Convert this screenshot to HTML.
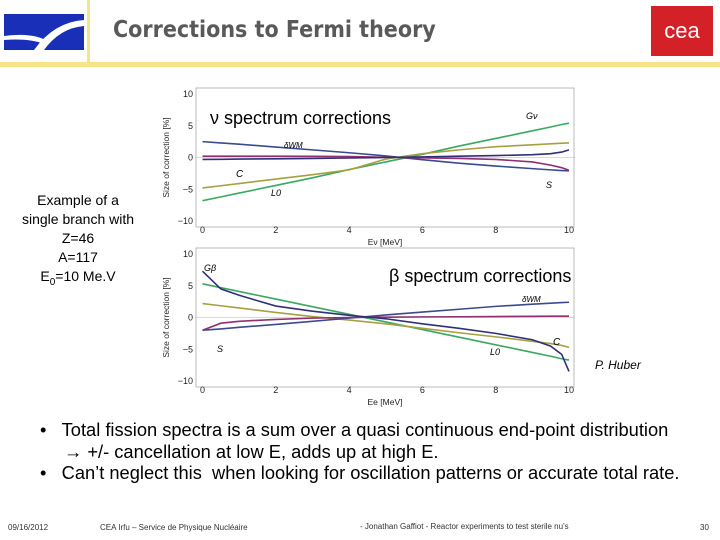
<!DOCTYPE html>
<html><head><meta charset="utf-8"><style>
body{margin:0;width:720px;height:540px;overflow:hidden;background:#fff;font-family:"Liberation Sans",sans-serif;position:relative}
.abs{position:absolute}
</style></head><body>
<div class="abs" style="left:0;top:62px;width:720px;height:5px;background:#f5e48a"></div>
<div class="abs" style="left:87px;top:0;width:3px;height:64px;background:#f5e48a"></div>
<svg class="abs" style="left:4px;top:14px" width="80" height="36"><rect width="80" height="36" fill="#1a2fb8"/><path d="M30 36 Q50 8 80 6 L80 12 Q56 14 40 36Z" fill="#fff"/><path d="M0 22 Q30 18 45 28 L40 30 Q25 24 0 26Z" fill="#fff"/></svg>
<div class="abs" style="left:113px;top:17px;font-size:23px;font-weight:bold;color:#595959;font-family:'DejaVu Sans Condensed','Liberation Sans Narrow',sans-serif">Corrections to Fermi theory</div>
<div class="abs" style="left:651px;top:6px;width:62px;height:50px;background:#d42027;color:#fff;font-size:22px;text-align:center;line-height:50px">cea</div>
<div class="abs" style="left:18px;top:191px;width:120px;text-align:center;font-size:14px;line-height:19px;color:#000">Example of a single branch with<br>Z=46<br>A=117<br>E<sub style="font-size:10px">0</sub>=10 Me.V</div>
<svg class="abs" style="left:0;top:0" width="720" height="420" id="svg"></svg>
<div class="abs" style="left:40px;top:419px;font-size:18.3px;line-height:21.5px;color:#000">
<div>•&nbsp;&nbsp;&nbsp;Total fission spectra is a sum over a quasi continuous end-point distribution</div>
<div style="padding-left:24px">→ +/- cancellation at low E, adds up at high E.</div>
<div>•&nbsp;&nbsp;&nbsp;Can’t neglect this&nbsp; when looking for oscillation patterns or accurate total rate.</div></div>
<div class="abs" style="left:8px;top:523px;font-size:8px;color:#333">09/16/2012</div>
<div class="abs" style="left:100px;top:523px;font-size:8px;color:#333">CEA Irfu – Service de Physique Nucléaire</div>
<div class="abs" style="left:360px;top:522px;font-size:8px;color:#333">- Jonathan Gaffiot - Reactor experiments to test sterile nu's</div>
<div class="abs" style="left:700px;top:523px;font-size:8px;color:#333">30</div>
<script>
const xs=[0,0.5,1,2,3,4,5,6,7,8,9,9.5,9.8,10];
const nuL0=[-6.8,-6.2,-5.6,-4.4,-3.2,-1.9,-0.7,0.5,1.8,3.0,4.2,4.8,5.2,5.4];
const nuC=[-4.8,-4.45,-4.1,-3.4,-2.7,-1.95,-0.25,0.6,1.2,1.7,2.0,2.15,2.25,2.3];
const nuWM=[2.5,2.3,2.1,1.65,1.2,0.75,0.25,-0.35,-0.9,-1.35,-1.75,-1.95,-2.05,-2.1];
const nuS=[0.2,0.2,0.2,0.2,0.18,0.15,0.05,-0.05,-0.15,-0.3,-0.7,-1.2,-1.6,-2.0];
const nuG=[-0.3,-0.28,-0.25,-0.2,-0.15,-0.08,0,0.1,0.2,0.3,0.45,0.6,0.85,1.2];
const bG=[7.3,4.5,3.5,1.8,1.0,0.35,-0.2,-1.0,-1.7,-2.5,-3.5,-4.5,-5.8,-8.5];
const bL0=[5.3,4.7,4.1,2.9,1.7,0.5,-0.7,-1.9,-3.1,-4.3,-5.5,-6.1,-6.5,-6.7];
const bC=[2.2,1.85,1.5,0.8,0.15,-0.4,-1.0,-1.7,-2.4,-3.05,-3.75,-4.1,-4.4,-4.7];
const bWM=[-2.0,-1.8,-1.55,-1.1,-0.6,-0.1,0.4,0.85,1.3,1.75,2.1,2.25,2.35,2.4];
const bS=[-2.0,-0.9,-0.6,-0.3,-0.1,0,0.05,0.1,0.12,0.15,0.18,0.2,0.2,0.2];
const yTicks=[10,5,0,-5,-10];
const xTicks=[0,2,4,6,8,10];
const svg=document.getElementById('svg');
const NS='http://www.w3.org/2000/svg';
function el(t,a,txt){const e=document.createElementNS(NS,t);for(const k in a)e.setAttribute(k,a[k]);if(txt!=null)e.textContent=txt;svg.appendChild(e);return e;}
function chart(top,bottom,series,name,xlab){
 const sx=v=>202.5+v*36.65, sy=v=>(top+bottom)/2-v*(bottom-top)/20;
 const ax=el('line',{x1:195,y1:sy(0),x2:575,y2:sy(0),stroke:'#ccc','stroke-width':0.8});
 
 const fr=el('rect',{x:196,y:top-6,width:378,height:bottom-top+12,fill:'none',stroke:'#aaa','stroke-width':0.8});
 
 yTicks.forEach(t=>{const e=el('text',{x:193,y:sy(t)+3,'font-size':9,'text-anchor':'end',fill:'#222'},t<0?'−'+(-t):t);
  });
 xTicks.forEach(t=>{const e=el('text',{x:sx(t),y:bottom+12,'font-size':9,'text-anchor':'middle',fill:'#222'},t);
  });
 const yl=el('text',{x:0,y:0,'font-size':8.5,'text-anchor':'middle',fill:'#222',transform:`translate(169,${(top+bottom)/2}) rotate(-90)`},'Size of correction [%]');
 
 const xl=el('text',{x:385,y:bottom+24,'font-size':8.5,'text-anchor':'middle',fill:'#222'},xlab);
 
 series.forEach(s=>{const p=el('polyline',{points:xs.map((x,i)=>sx(x)+','+sy(s.v[i])).join(' '),fill:'none',stroke:s.c,'stroke-width':1.6});
  });
 return {sx,sy};
}
chart(94,221,[{v:nuL0,c:'#3aa860',n:'l0'},{v:nuC,c:'#a8a040',n:'c'},{v:nuWM,c:'#3a4a90',n:'wm'},{v:nuS,c:'#903070',n:'s'},{v:nuG,c:'#30307a',n:'g'}],'nu-chart','Eν [MeV]');
chart(254,381,[{v:bL0,c:'#3aa860',n:'l0'},{v:bC,c:'#a8a040',n:'c'},{v:bWM,c:'#3a4a90',n:'wm'},{v:bS,c:'#903070',n:'s'},{v:bG,c:'#30307a',n:'g'}],'beta-chart','Ee [MeV]');
const lbl=[[210,124,18,'ν spectrum corrections','nu-title'],[389,282,18,'β spectrum corrections','beta-title'],
[526,119,9,'Gν','nu-g-label'],[284,148,8,'δWM','nu-wm-label'],[236,177,10,'C','nu-c-label'],[271,196,9,'L0','nu-l0-label'],[546,188,9,'S','nu-s-label'],
[204,271,9,'Gβ','beta-g-label'],[522,302,8,'δWM','beta-wm-label'],[553,345,10,'C','beta-c-label'],[490,355,9,'L0','beta-l0-label'],[217,352,9,'S','beta-s-label'],
[595,369,12,'P. Huber','credit']];
lbl.forEach(l=>{const e=el('text',{x:l[0],y:l[1],'font-size':l[2],fill:'#000','font-style':l[4]=='credit'||l[2]<11?'italic':'normal'},l[3]);
 });
</script>
</body></html>
